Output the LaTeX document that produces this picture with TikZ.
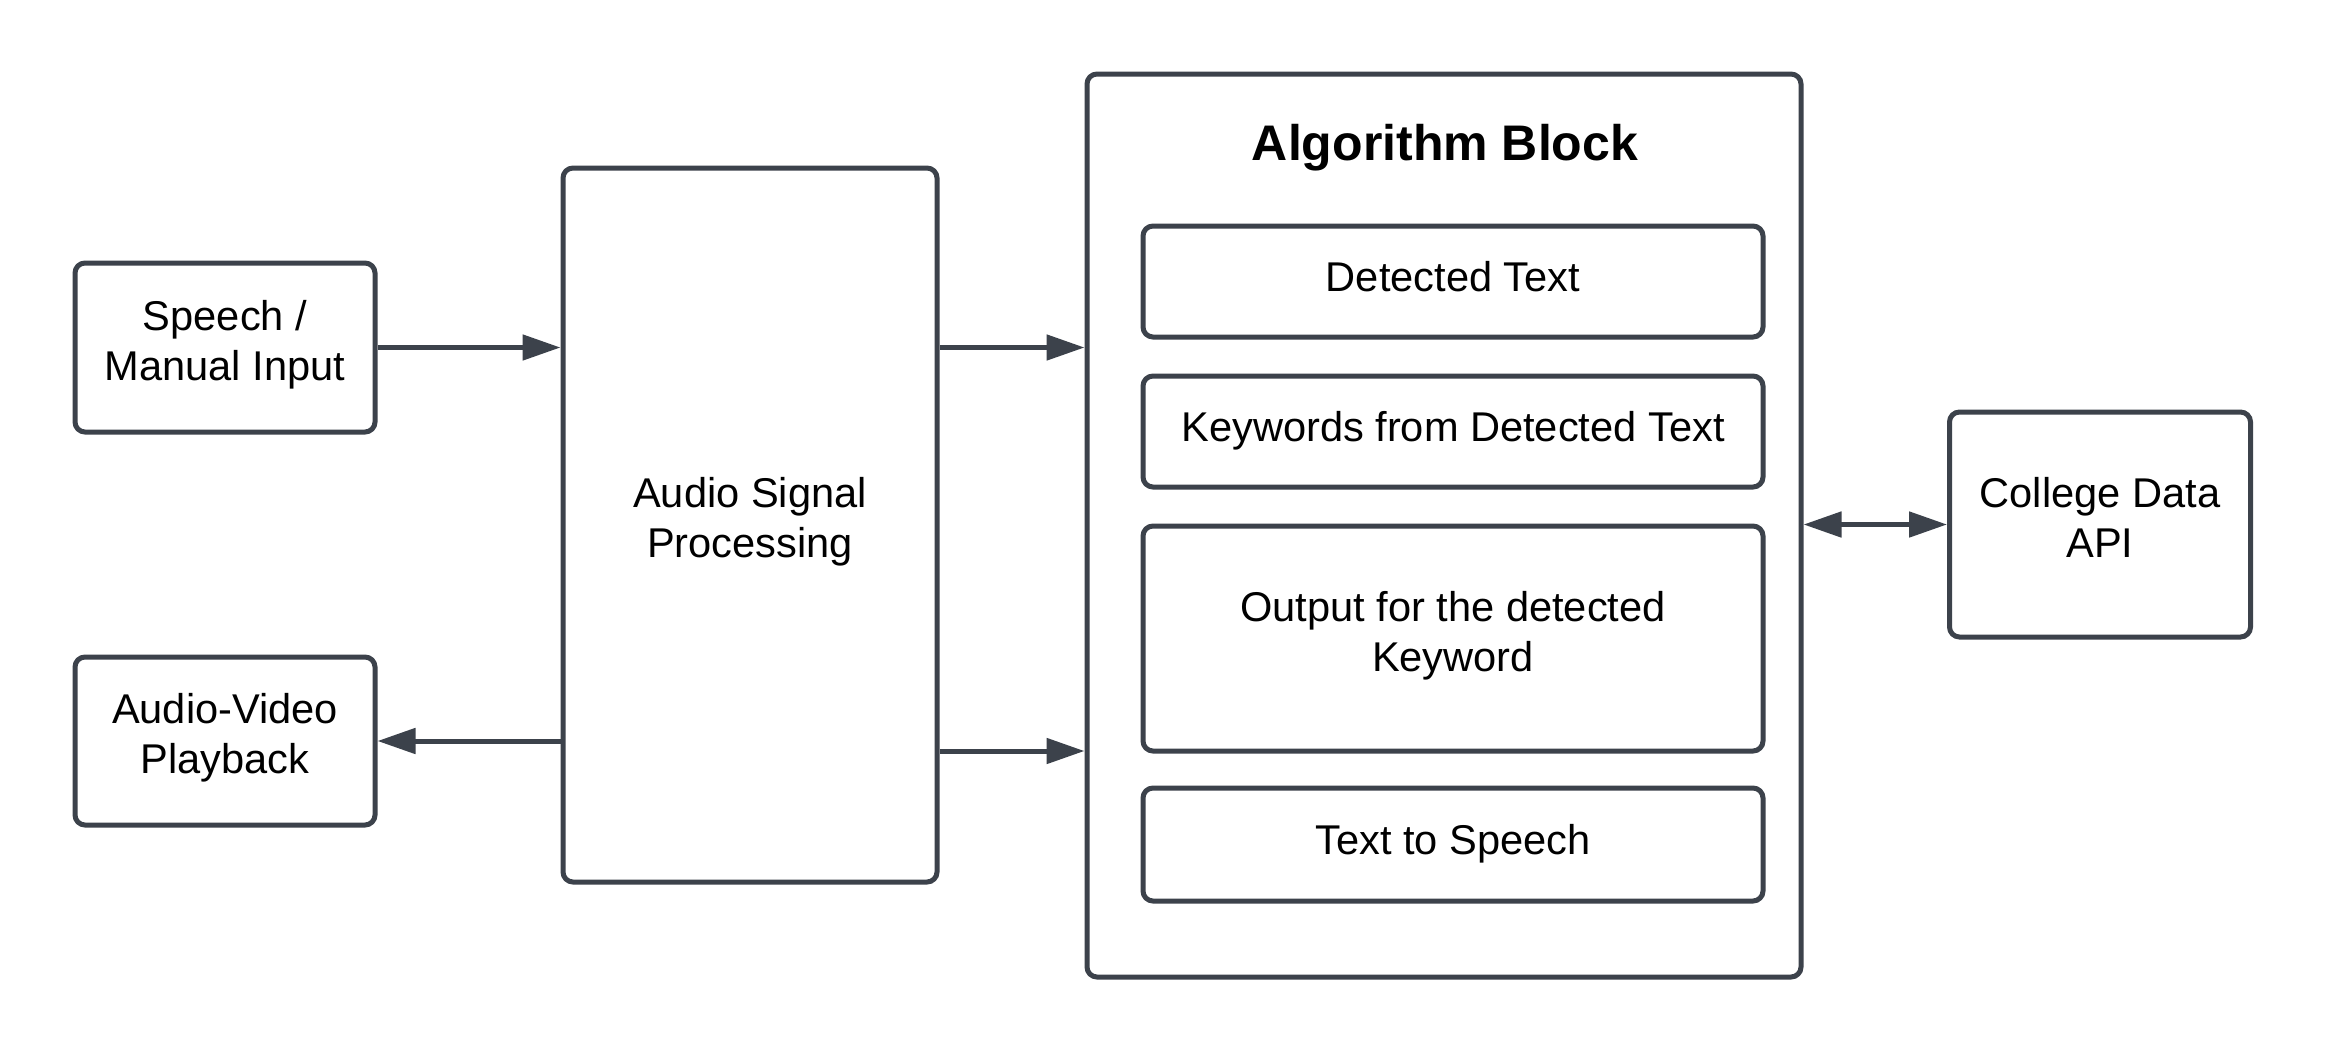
\documentclass[tikz,border=0pt]{standalone}
\usepackage{fontspec}
\setmainfont{Liberation Sans}
\usetikzlibrary{arrows.meta}
\definecolor{ln}{RGB}{60,66,75}
\begin{document}
\begin{tikzpicture}[x=1pt,y=-1pt,
  box/.style={draw=ln, line width=5pt, rounded corners=10pt, align=center, inner sep=0pt,
    font=\fontsize{41.6}{50}\selectfont, execute at begin node=\strut, execute at end node=\strut},
  tip/.tip={Triangle[length=38pt,width=25pt]},
  arr/.style={draw=ln, line width=5pt, -tip},
  darr/.style={draw=ln, line width=5pt, tip-tip},
  title/.style={font=\bfseries\fontsize{50}{60}\selectfont, anchor=base, inner sep=0pt}
]
\fill[white] (0,0) rectangle (2325,1050);
\useasboundingbox (0,0) rectangle (2325,1050);

\node[box, minimum width=300pt, minimum height=169pt] (sp) at (225,347.5) {Speech /\\Manual Input};
\node[box, minimum width=300pt, minimum height=168pt] (av) at (225,741) {Audio-Video\\Playback};
\node[box, minimum width=374pt, minimum height=714pt] (asp) at (750,525) {Audio Signal\\Processing};
\node[box, minimum width=714pt, minimum height=903pt] (alg) at (1444,525.5) {};
\node[title] (ttl) at (1445,160) {Algorithm Block};
\node[box, minimum width=620pt, minimum height=111pt] (dt) at (1453,281.5) {Detected Text};
\node[box, minimum width=620pt, minimum height=111pt] (kw) at (1453,431.5) {Keywords from Detected Text};
\node[box, minimum width=620pt, minimum height=225pt] (out) at (1453,638.5) {Output for the detected\\Keyword};
\node[box, minimum width=620pt, minimum height=113pt] (tts) at (1453,844.5) {Text to Speech};
\node[box, minimum width=301pt, minimum height=225pt] (api) at (2100,524.5) {College Data\\API};

\coordinate (lo) at (0,751);
\draw[arr] (sp.east) -- (sp.east -| asp.west);
\draw[arr] (asp.east |- sp.east) -- (sp.east -| alg.west);
\draw[arr] (asp.east |- lo) -- (alg.west |- lo);
\draw[arr] (asp.west |- av.east) -- (av.east);
\draw[darr] (alg.east |- api.west) -- (api.west);
\end{tikzpicture}
\end{document}
